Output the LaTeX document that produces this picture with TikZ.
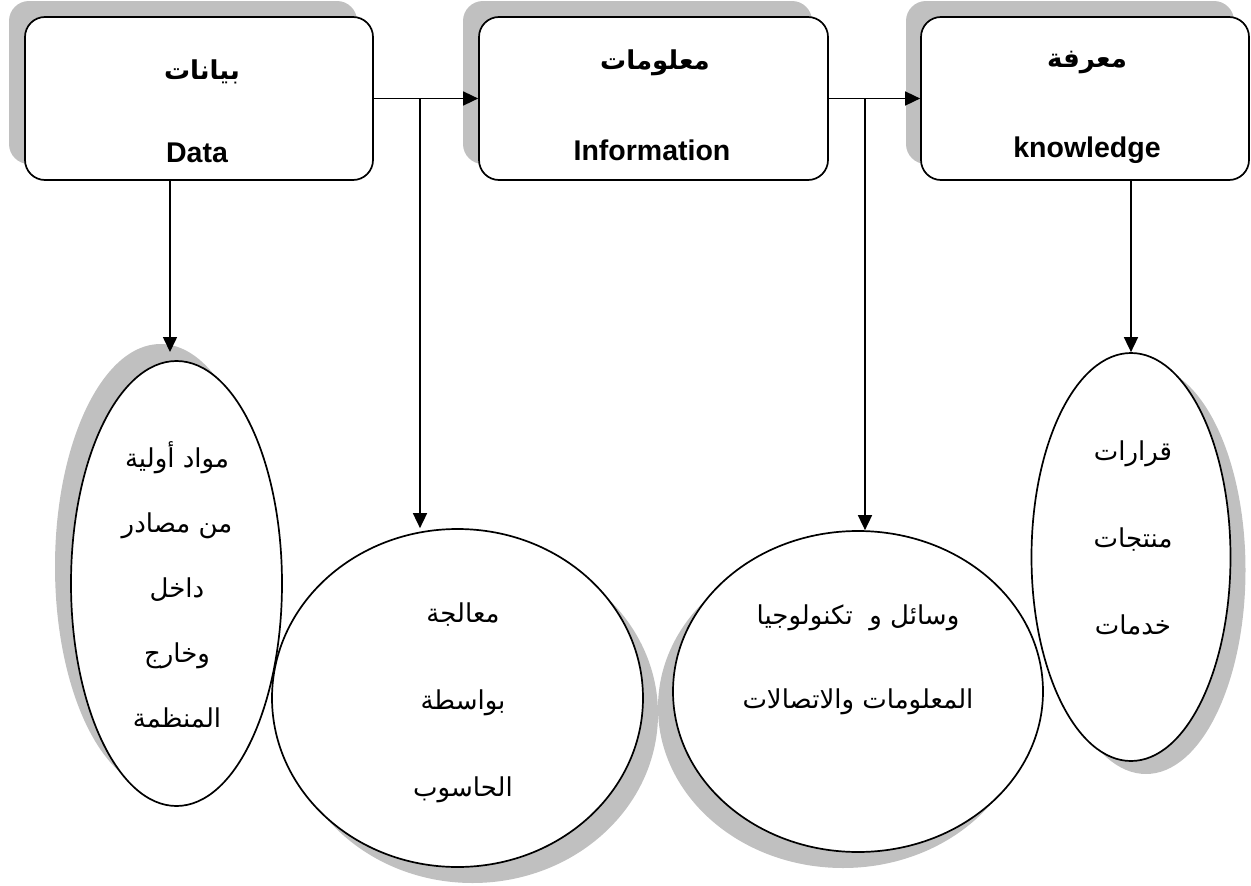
\documentclass[tikz,border=0pt]{standalone}
\usepackage{fontspec}
\setmainfont{Liberation Sans}
\newfontfamily\arabicfont[Script=Arabic]{DejaVu Sans}
\TeXXeTstate=1
\usetikzlibrary{shapes.geometric,arrows.meta,calc}
\pgfdeclarelayer{shade}
\pgfdeclarelayer{paper}
\pgfsetlayers{shade,paper,main}
\definecolor{shadowgray}{RGB}{192,192,192}

\tikzset{
  box/.style={rectangle, rounded corners=20pt, inner sep=0pt, minimum height=163pt},
  oval/.style={ellipse, inner sep=0pt},
  outline/.style={draw=black, line width=1.7pt},
  shadowfill/.style={fill=shadowgray, draw=none},
  paperfill/.style={fill=white, draw=none},
  link/.style={line width=1.6pt, -{Triangle[length=15pt,width=14pt]}},
  titlear/.style={inner sep=0pt, font=\arabicfont\bfseries\fontsize{26}{30}\selectfont},
  titleen/.style={inner sep=0pt, font=\bfseries\fontsize{28.5}{32}\selectfont},
  bodytext/.style={inner sep=0pt, align=center, font=\arabicfont\fontsize{26}{#1}\selectfont},
}

\begin{document}
\begin{tikzpicture}[x=1pt, y=-1pt]
\useasboundingbox (0,0) rectangle (1251,886);

% shadows
\begin{pgfonlayer}{shade}
  \node[box, shadowfill, minimum width=348pt] (d-s) at (183,82.5) {};
  \node[box, shadowfill, minimum width=349pt] (i-s) at (637.5,82.5) {};
  \node[box, shadowfill, minimum width=328pt] (k-s) at (1070,82.5) {};
  \node[oval, shadowfill, minimum width=211pt, minimum height=445pt] (e1-s) at (160.5,566.5) {};
  \node[oval, shadowfill, minimum width=371pt, minimum height=338pt] (c2-s) at (472.5,714) {};
  \node[oval, shadowfill, minimum width=370pt, minimum height=321pt] (c3-s) at (843,707.5) {};
  \node[oval, shadowfill, minimum width=199pt, minimum height=408pt] (e4-s) at (1146,570) {};
\end{pgfonlayer}

% white faces of the ovals, kept under every outline
\begin{pgfonlayer}{paper}
  \node[oval, paperfill, minimum width=211pt, minimum height=445pt] (e1-p) at (176.5,583.5) {};
  \node[oval, paperfill, minimum width=371pt, minimum height=338pt] (c2-p) at (457.5,698) {};
  \node[oval, paperfill, minimum width=370pt, minimum height=321pt] (c3-p) at (858,691.5) {};
  \node[oval, paperfill, minimum width=199pt, minimum height=408pt] (e4-p) at (1131,557) {};
\end{pgfonlayer}

% stage boxes
\node[box, outline, fill=white, minimum width=348pt] (d) at (199,98.5) {};
\node[box, outline, fill=white, minimum width=349pt] (i) at (653.5,98.5) {};
\node[box, outline, fill=white, minimum width=328pt] (k) at (1085,98.5) {};

\node[titlear] (d-ar) at (202,72) {\beginR بيانات\endR};
\node[titleen] (d-en) at (197,153) {Data};
\node[titlear] (i-ar) at (655,63) {\beginR معلومات\endR};
\node[titleen] (i-en) at (652,150) {Information};
\node[titlear] (k-ar) at (1087,63) {\beginR معرفة\endR};
\node[titleen] (k-en) at (1087,150) {knowledge};

% ovals
\node[oval, outline, minimum width=211pt, minimum height=445pt] (e1) at (176.5,583.5) {};
\node[oval, outline, minimum width=371pt, minimum height=338pt] (c2) at (457.5,698) {};
\node[oval, outline, minimum width=370pt, minimum height=321pt] (c3) at (858,691.5) {};
\node[oval, outline, minimum width=199pt, minimum height=408pt] (e4) at (1131,557) {};

\node[bodytext=65pt] (e1-t) at (177,585)
  {\beginR مواد أولية\endR\\ \beginR من مصادر\endR\\ \beginR داخل\endR\\ \beginR وخارج\endR\\ \beginR المنظمة\endR};
\node[bodytext=87pt] (c2-t) at (463,703)
  {\beginR معالجة\endR\\ \beginR بواسطة\endR\\ \beginR الحاسوب\endR};
\node[bodytext=84pt] (c3-t) at (858,660)
  {\beginR وسائل و\ \ تكنولوجيا\endR\\ \beginR المعلومات والاتصالات\endR};
\node[bodytext=87pt] (e4-t) at (1133,538)
  {\beginR قرارات\endR\\ \beginR منتجات\endR\\ \beginR خدمات\endR};

% connectors
\coordinate (j1) at (420,98.5);
\coordinate (j2) at (865,98.5);
\coordinate (p1) at (170,352);
\draw[link] (d.east) -- (i.west);
\draw[link] (i.east) -- (k.west);
\draw[link] (j1) -- (j1 |- c2.north);
\draw[link] (j2) -- (j2 |- c3.north);
\draw[link] (p1 |- d.south) -- (p1);
\draw[link] (e4.north |- k.south) -- (e4.north);
\end{tikzpicture}
\end{document}
